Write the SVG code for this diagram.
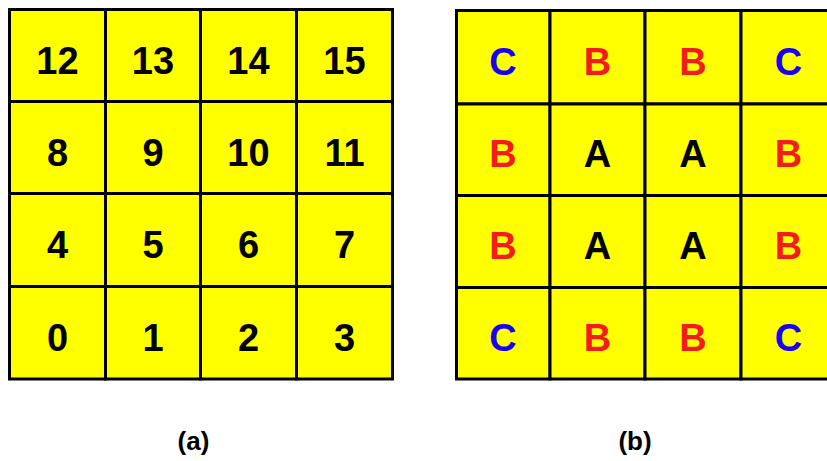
<svg xmlns="http://www.w3.org/2000/svg" width="827" height="461" viewBox="0 0 827 461">
<style>
.cell{fill:#ffff00;stroke:#000;stroke-width:3}
.t{font-family:"Liberation Sans",Arial,sans-serif;font-weight:bold;font-size:38px;text-anchor:middle;fill:#000}
.r{fill:#f21c1c}
.b{fill:#1a00f0}
.lbl{font-family:"Liberation Sans",Arial,sans-serif;font-weight:bold;font-size:26px;text-anchor:middle;fill:#000}
</style>
<rect width="827" height="461" fill="#fff"/>
<g id="grid-a">
<g id="a12"><rect class="cell" x="9.5" y="9.5" width="96" height="92"/><text class="t" x="57.5" y="74">12</text></g>
<g id="a13"><rect class="cell" x="105.5" y="9.5" width="95" height="92"/><text class="t" x="153" y="74">13</text></g>
<g id="a14"><rect class="cell" x="200.5" y="9.5" width="96" height="92"/><text class="t" x="248.5" y="74">14</text></g>
<g id="a15"><rect class="cell" x="296.5" y="9.5" width="96" height="92"/><text class="t" x="344.5" y="74">15</text></g>
<g id="a8"><rect class="cell" x="9.5" y="101.5" width="96" height="92"/><text class="t" x="57.5" y="166">8</text></g>
<g id="a9"><rect class="cell" x="105.5" y="101.5" width="95" height="92"/><text class="t" x="153" y="166">9</text></g>
<g id="a10"><rect class="cell" x="200.5" y="101.5" width="96" height="92"/><text class="t" x="248.5" y="166">10</text></g>
<g id="a11"><rect class="cell" x="296.5" y="101.5" width="96" height="92"/><text class="t" x="344.5" y="166">11</text></g>
<g id="a4"><rect class="cell" x="9.5" y="193.5" width="96" height="93"/><text class="t" x="57.5" y="258">4</text></g>
<g id="a5"><rect class="cell" x="105.5" y="193.5" width="95" height="93"/><text class="t" x="153" y="258">5</text></g>
<g id="a6"><rect class="cell" x="200.5" y="193.5" width="96" height="93"/><text class="t" x="248.5" y="258">6</text></g>
<g id="a7"><rect class="cell" x="296.5" y="193.5" width="96" height="93"/><text class="t" x="344.5" y="258">7</text></g>
<g id="a0"><rect class="cell" x="9.5" y="286.5" width="96" height="92.5"/><text class="t" x="57.5" y="351">0</text></g>
<g id="a1"><rect class="cell" x="105.5" y="286.5" width="95" height="92.5"/><text class="t" x="153" y="351">1</text></g>
<g id="a2"><rect class="cell" x="200.5" y="286.5" width="96" height="92.5"/><text class="t" x="248.5" y="351">2</text></g>
<g id="a3"><rect class="cell" x="296.5" y="286.5" width="96" height="92.5"/><text class="t" x="344.5" y="351">3</text></g>
</g>
<g id="grid-b">
<g id="b00"><rect class="cell" x="456.5" y="10.5" width="93.5" height="93.5"/><text class="t b" x="503" y="75">C</text></g>
<g id="b01"><rect class="cell" x="550" y="10.5" width="95" height="93.5"/><text class="t r" x="597.5" y="75">B</text></g>
<g id="b02"><rect class="cell" x="645" y="10.5" width="96" height="93.5"/><text class="t r" x="693" y="75">B</text></g>
<g id="b03"><rect class="cell" x="741" y="10.5" width="95" height="93.5"/><text class="t b" x="788.5" y="75">C</text></g>
<g id="b10"><rect class="cell" x="456.5" y="104" width="93.5" height="91.5"/><text class="t r" x="503" y="167">B</text></g>
<g id="b11"><rect class="cell" x="550" y="104" width="95" height="91.5"/><text class="t" x="597.5" y="167">A</text></g>
<g id="b12"><rect class="cell" x="645" y="104" width="96" height="91.5"/><text class="t" x="693" y="167">A</text></g>
<g id="b13"><rect class="cell" x="741" y="104" width="95" height="91.5"/><text class="t r" x="788.5" y="167">B</text></g>
<g id="b20"><rect class="cell" x="456.5" y="195.5" width="93.5" height="92"/><text class="t r" x="503" y="259">B</text></g>
<g id="b21"><rect class="cell" x="550" y="195.5" width="95" height="92"/><text class="t" x="597.5" y="259">A</text></g>
<g id="b22"><rect class="cell" x="645" y="195.5" width="96" height="92"/><text class="t" x="693" y="259">A</text></g>
<g id="b23"><rect class="cell" x="741" y="195.5" width="95" height="92"/><text class="t r" x="788.5" y="259">B</text></g>
<g id="b30"><rect class="cell" x="456.5" y="287.5" width="93.5" height="91.5"/><text class="t b" x="503" y="351">C</text></g>
<g id="b31"><rect class="cell" x="550" y="287.5" width="95" height="91.5"/><text class="t r" x="597.5" y="351">B</text></g>
<g id="b32"><rect class="cell" x="645" y="287.5" width="96" height="91.5"/><text class="t r" x="693" y="351">B</text></g>
<g id="b33"><rect class="cell" x="741" y="287.5" width="95" height="91.5"/><text class="t b" x="788.5" y="351">C</text></g>
</g>
<g id="connectors"/>
<text id="label-a" class="lbl" x="193.5" y="450">(a)</text>
<text id="label-b" class="lbl" x="635" y="450">(b)</text>
</svg>
